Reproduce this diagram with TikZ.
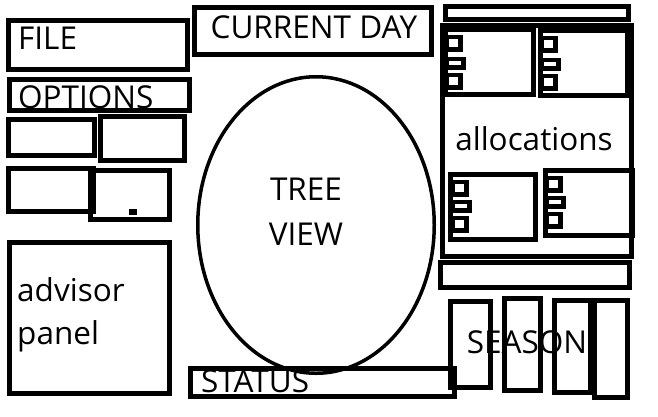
\documentclass[tikz,border=0pt]{standalone}
\usepackage{fontspec}
\setmainfont{Open Sans}
\usetikzlibrary{shapes.geometric}
\usetikzlibrary{positioning}

\begin{document}
\begin{tikzpicture}[x=1pt, y=-1pt, line join=miter]
	\tikzstyle{box}=[draw, rectangle, line width=4.8pt, inner sep=0pt]
	\tikzstyle{sq}=[draw, rectangle, line width=4.5pt, inner sep=0pt, minimum width=13.5pt, minimum height=12.5pt]
	\tikzstyle{sqwide}=[sq, minimum width=16.5pt, minimum height=8.5pt]
	\tikzstyle{lbl}=[inner sep=0pt, font=\fontsize{31.5}{44}\selectfont]
	\useasboundingbox (0,0) rectangle (658,416);
	% left column
	\node[box, minimum width=179.5pt, minimum height=49.5pt] (file) at (98,45) {};
	\node[box, minimum width=180.5pt, minimum height=31.5pt] (options) at (99.5,95) {};
	\node[box, minimum width=86.5pt, minimum height=36.5pt] (tool1) at (51.5,137.5) {};
	\node[box, minimum width=84.5pt, minimum height=44.5pt] (tool2) at (142.5,138.5) {};
	\node[box, minimum width=85.5pt, minimum height=43.5pt] (tool3) at (51,190) {};
	\node[box, minimum width=79.5pt, minimum height=49.5pt] (tool4) at (130,195) {};
	\node[fill, inner sep=0pt, minimum width=8pt, minimum height=6pt] (dot) at (133,212) {};
	\node[box, minimum width=160.5pt, minimum height=151.5pt] (advisor) at (89.5,318) {};
	% middle
	\node[box, minimum width=237.5pt, minimum height=47.5pt] (day) at (313,31) {};
	\node[draw, ellipse, line width=3.5pt, inner sep=0pt, minimum width=236.5pt, minimum height=296.5pt] (tree) at (316,225) {};
	\node[box, minimum width=264.5pt, minimum height=28.5pt] (status) at (322.5,382.5) {};
	% allocations
	\node[box, minimum width=183.5pt, minimum height=13.5pt] (alloctop) at (537,13) {};
	\node[box, minimum width=189.5pt, minimum height=231.5pt] (alloc) at (537,141) {};
	\node[box, minimum width=88.5pt, minimum height=65.5pt] (tl) at (489.5,62) {};
	\node[box, minimum width=87.5pt, minimum height=65.5pt] (tr) at (584,63) {};
	\node[box, minimum width=85.5pt, minimum height=65.5pt] (bl) at (493,207) {};
	\node[box, minimum width=87.5pt, minimum height=65.5pt] (br) at (589,203) {};
	\node[box, minimum width=189.5pt, minimum height=25.5pt] (allocbot) at (535,275) {};
	\node[sq] (tl1) [below right=8pt and 2pt of tl.north west] {};
	\node[sqwide] (tl2) [below right=30pt and 2pt of tl.north west] {};
	\node[sq] (tl3) [below right=46pt and 2pt of tl.north west] {};
	\node[sq] (tr1) [below right=8pt and 2pt of tr.north west] {};
	\node[sqwide] (tr2) [below right=30pt and 2pt of tr.north west] {};
	\node[sq] (tr3) [below right=46pt and 2pt of tr.north west] {};
	\node[sq] (bl1) [below right=8pt and 3pt of bl.north west] {};
	\node[sqwide] (bl2) [below right=28pt and 3pt of bl.north west] {};
	\node[sq] (bl3) [below right=44pt and 3pt of bl.north west] {};
	\node[sq] (br1) [below right=8pt and 2pt of br.north west] {};
	\node[sqwide] (br2) [below right=28pt and 2pt of br.north west] {};
	\node[sq] (br3) [below right=44pt and 2pt of br.north west] {};
	% season
	\node[box, minimum width=40.5pt, minimum height=86.5pt] (season1) at (470.5,344.5) {};
	\node[box, minimum width=36.5pt, minimum height=92.5pt] (season2) at (522.5,344.5) {};
	\node[box, minimum width=36.5pt, minimum height=92.5pt] (season3) at (572.5,346.5) {};
	\node[box, minimum width=33.5pt, minimum height=97.5pt] (season4) at (611,349) {};
	% texts
	\node[lbl, anchor=base west] (filetext) at (18,49) {FILE};
	\node[lbl, anchor=base west] (optionstext) at (18,108) {OPTIONS};
	\node[lbl, anchor=base] (daytext) at (314,38) {CURRENT DAY};
	\node[lbl, anchor=north, align=center, font=\fontsize{31.5}{45}\selectfont] (treetext) at (306,178) {TREE\\VIEW};
	\node[lbl, anchor=north west, align=left, font=\fontsize{31.5}{43}\selectfont] (advisortext) at (17,277) {advisor\\panel};
	\node[lbl, anchor=base] (alloctext) at (534,150) {allocations};
	\node[lbl, anchor=base] (seasontext) at (527,353) {SEASON};
	\node[lbl, anchor=base west] (statustext) at (201,392) {STATUS};
\end{tikzpicture}
\end{document}
